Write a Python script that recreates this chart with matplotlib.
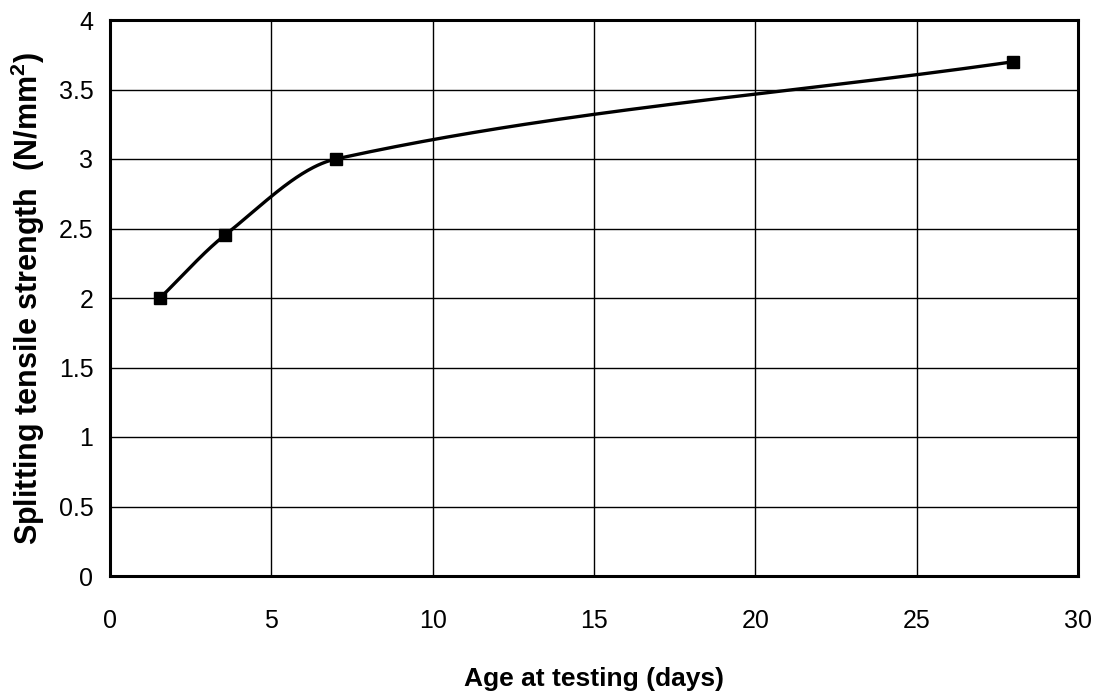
import numpy as np
import matplotlib
matplotlib.use("Agg")
import matplotlib.pyplot as plt

# data
AGE_DAYS = [1.55, 3.55, 7.0, 28.0]
STRENGTH = [2.0, 2.45, 3.0, 3.7]
X_TICKS = [0, 5, 10, 15, 20, 25, 30]
Y_TICKS = [0, 0.5, 1, 1.5, 2, 2.5, 3, 3.5, 4]
Y_TICK_LABELS = ["0", "0.5", "1", "1.5", "2", "2.5", "3", "3.5", "4"]


def smooth_line(xs, ys, n=80):
    """Smoothed line through the points: cubic Hermite, central-difference tangents
    inside, secant slope at the two ends."""
    x = np.asarray(xs, float)
    y = np.asarray(ys, float)
    h = np.diff(x)
    d = np.diff(y) / h
    m = np.empty_like(x)
    m[1:-1] = (y[2:] - y[:-2]) / (x[2:] - x[:-2])
    m[0] = d[0]
    m[-1] = d[-1]
    cx, cy = [], []
    t = np.linspace(0, 1, n)
    h00 = 2 * t**3 - 3 * t**2 + 1
    h10 = t**3 - 2 * t**2 + t
    h01 = -2 * t**3 + 3 * t**2
    h11 = t**3 - t**2
    for k in range(len(x) - 1):
        cx.append(x[k] + t * h[k])
        cy.append(h00 * y[k] + h10 * h[k] * m[k] + h01 * y[k + 1] + h11 * h[k] * m[k + 1])
    return np.concatenate(cx), np.concatenate(cy)


plt.rcParams["font.family"] = ["Liberation Sans", "DejaVu Sans"]

fig = plt.figure(figsize=(11.02, 6.96), dpi=100)
ax = fig.add_axes([110 / 1102, 1 - 576 / 696, (1078 - 110) / 1102, (576 - 20) / 696])

cx, cy = smooth_line(AGE_DAYS, STRENGTH)
ax.plot(cx, cy, color="black", lw=2.4, zorder=3)
ax.plot(AGE_DAYS, STRENGTH, ls="none", marker="s", ms=8, color="black", zorder=4)

ax.set_xlim(0, 30)
ax.set_ylim(0, 4)
ax.set_xticks(X_TICKS)
ax.set_yticks(Y_TICKS)
ax.set_yticklabels(Y_TICK_LABELS)
ax.grid(True, color="black", lw=1.0)
ax.set_axisbelow(True)
for s in ax.spines.values():
    s.set_linewidth(2.2)
ax.tick_params(axis="both", length=0, labelsize=18)
ax.tick_params(axis="x", pad=24)
ax.tick_params(axis="y", pad=12)

ax.set_xlabel("Age at testing (days)", fontsize=19, fontweight="bold", labelpad=24)
ax.set_ylabel("Splitting tensile strength  (N/mm$^\\mathregular{2}$)", fontsize=22,
              fontweight="bold", labelpad=8)

fig.savefig("out.png", dpi=100)
